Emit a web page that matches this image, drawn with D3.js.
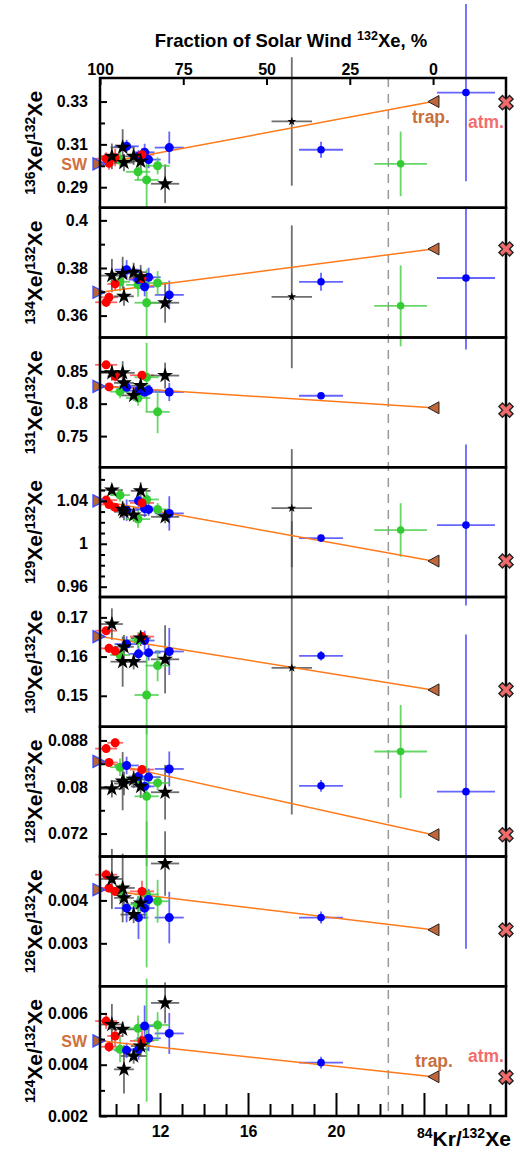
<!DOCTYPE html>
<html>
<head>
<meta charset="utf-8">
<script src="https://cdn.jsdelivr.net/npm/d3@7"></script>
<style>
body { margin: 0; background: #fff; }
svg { display: block; font-family: "Liberation Sans", Arial, sans-serif; font-weight: bold; }
</style>
</head>
<body>
<svg id="chart" width="514" height="1149"></svg>
<script>
// Samples: 4 red, 6 black stars, 5 blue, 4 green in the cluster, then four far points.
const sampleGroup = ["red", "red", "red", "red",
    "black", "black", "black", "black", "black", "black",
    "blue", "blue", "blue", "blue", "blue",
    "green", "green", "green", "green",
    "black", "blue", "green", "blue"];
const sampleKr = [9.55, 9.68, 9.96, 11.18,
    9.81, 10.30, 10.36, 10.80, 11.12, 12.23,
    10.48, 11.02, 11.30, 11.48, 12.42,
    10.18, 11.00, 11.39, 11.89,
    17.99, 19.32, 22.94, 25.91];
const sampleKrErr = [0.5, 0.4, 0.36, 0.55,
    0.5, 0.55, 0.45, 0.6, 0.45, 0.64,
    0.55, 0.45, 0.45, 0.55, 0.66,
    0.45, 0.55, 0.55, 0.55,
    0.92, 1.0, 1.2, 1.32];

// [ratio, error] per sample, same order as above (null = not plotted)
const xe136 = [[0.3033, 0.003], [0.3012, 0.003], [0.3038, 0.004], [0.3052, 0.003],
    [0.3044, 0.006], [0.3086, 0.0085], [0.3015, 0.004], [0.3044, 0.004], [0.3021, 0.004], [0.2916, 0.009],
    [0.3091, 0.003], [0.3043, 0.003], [0.3063, 0.004], [0.3029, 0.004], [0.3085, 0.0075],
    [0.3027, 0.004], [0.2972, 0.004], [0.2934, 0.0125], [0.3000, 0.004],
    [0.3207, 0.030], [0.3075, 0.0037], [0.3009, 0.0151], [0.3342, 0.0414]];
const xe134 = [[0.3656, 0.002], [0.3677, 0.002], [0.3733, 0.003], [0.3756, 0.003],
    [0.3768, 0.007], [0.3777, 0.007], [0.3681, 0.004], [0.3782, 0.004], [0.3763, 0.005], [0.3654, 0.0084],
    [0.3793, 0.004], [0.3751, 0.004], [0.3721, 0.004], [0.3761, 0.004], [0.3687, 0.006],
    [0.3742, 0.004], [0.3729, 0.005], [0.3654, 0.014], [0.3737, 0.005],
    [0.3679, 0.030], [0.3742, 0.0038], [0.3641, 0.017], [0.3758, 0.030]];
const xe131 = [[0.8599, 0.006], [0.8258, 0.005], [0.8422, 0.008], [0.8438, 0.006],
    [0.8475, 0.012], [0.8475, 0.018], [0.8320, 0.012], [0.8127, 0.008], [0.8278, 0.012], [0.8433, 0.02],
    [0.8252, 0.008], [0.8200, 0.008], [0.8180, 0.008], [0.8205, 0.008], [0.8180, 0.014],
    [0.8185, 0.010], [0.8087, 0.012], [0.8407, 0.053], [0.7874, 0.033],
    null, [0.8122, 0.004], null, null];
const xe129 = [[1.0407, 0.003], [1.0366, 0.003], [1.0339, 0.004], [1.0381, 0.004],
    [1.0500, 0.005], [1.0320, 0.008], [1.0298, 0.008], [1.0267, 0.006], [1.0493, 0.008], [1.0251, 0.006],
    [1.0313, 0.010], [1.0400, 0.006], [1.0329, 0.008], [1.0320, 0.006], [1.0283, 0.016],
    [1.0453, 0.006], [1.0230, 0.008], [1.0413, 0.008], [1.0320, 0.006],
    [1.0332, 0.055], [1.0053, 0.003], [1.0128, 0.025], [1.0174, 0.075]];
const xe130 = [[0.1666, 0.001], [0.1621, 0.0012], [0.1614, 0.001], [0.1651, 0.0012],
    [0.1683, 0.004], [0.1587, 0.0064], [0.1625, 0.003], [0.1587, 0.002], [0.1647, 0.002], [0.1593, 0.0087],
    [0.1632, 0.002], [0.1607, 0.002], [0.1641, 0.0025], [0.1610, 0.002], [0.1613, 0.006],
    [0.1604, 0.002], [0.1642, 0.002], [0.1502, 0.010], [0.1577, 0.004],
    [0.1571, 0.0374], [0.1602, 0.0012], null, null];
const xe128 = [[0.0866, 0.0007], [0.0842, 0.0006], [0.0876, 0.0008], [0.0830, 0.0007],
    [0.0797, 0.0015], [0.0810, 0.005], [0.0806, 0.002], [0.0813, 0.0015], [0.0801, 0.002], [0.0791, 0.0047],
    [0.0837, 0.0015], [0.0818, 0.0015], [0.0801, 0.0015], [0.0817, 0.0015], [0.0831, 0.003],
    [0.0834, 0.0015], [0.0816, 0.0015], [0.0784, 0.012], [0.0807, 0.0012],
    null, [0.0802, 0.001], [0.0861, 0.008], [0.0792, 0.027]];
const xe126 = [[0.00460, 0.00012], [0.00429, 0.0001], [0.00421, 0.0001], [0.00421, 0.00025],
    [0.00450, 0.0007], [0.00429, 0.0008], [0.00406, 0.0002], [0.00367, 0.0002], [0.00394, 0.0002], [0.00486, 0.00075],
    [0.00382, 0.00033], [0.00360, 0.0005], [0.00382, 0.00025], [0.00402, 0.00025], [0.00360, 0.0006],
    [0.00418, 0.0002], [0.00390, 0.0002], [0.00414, 0.0017], [0.00398, 0.0005],
    null, [0.00360, 0.00014], null, null];
const xe124 = [[0.00570, 0.0003], [0.00470, 0.0002], [0.00512, 0.0004], [0.00493, 0.0004],
    [0.00557, 0.0008], [0.00538, 0.0003], [0.00382, 0.00094], [0.00434, 0.0003], [0.00473, 0.0004], [0.00641, 0.0008],
    [0.00456, 0.0003], [0.00460, 0.0004], [0.00551, 0.0008], [0.00503, 0.0005], [0.00522, 0.0008],
    [0.00460, 0.0005], [0.00542, 0.0005], [0.00496, 0.0024], [0.00555, 0.0005],
    null, [0.00408, 0.00023], null, null];

const ratioMass = ["136", "134", "131", "129", "130", "128", "126", "124"];
const ratioValues = [xe136, xe134, xe131, xe129, xe130, xe128, xe126, xe124];
const yDomains = [[0.2804, 0.341], [0.3508, 0.4053], [0.702, 0.902], [0.9504, 1.0713],
    [0.1421, 0.1752], [0.06806, 0.09035], [0.002, 0.005023], [0.002, 0.00706]];
const yMajor = [[0.29, 0.31, 0.33], [0.36, 0.38, 0.4], [0.75, 0.8, 0.85], [0.96, 1, 1.04],
    [0.15, 0.16, 0.17], [0.072, 0.08, 0.088], [0.003, 0.004], [0.002, 0.004, 0.006]];
const yMinor = [[0.30, 0.32], [0.37, 0.39], [], [0.97, 0.98, 0.99, 1.01, 1.02, 1.03, 1.05, 1.06],
    [], [0.076, 0.084], [], [0.003, 0.005]];

// end members: solar wind, trapped, atmosphere
const swRatio = [0.3009, 0.3698, 0.8267, 1.04, 0.1651, 0.0844, 0.00425, 0.00493];
const trapRatio = [0.3300, 0.3880, 0.7936, 0.9839, 0.1515, 0.0718, 0.003314, 0.003533];
const atmRatio = [0.3295, 0.3880, 0.7900, 0.9839, 0.1515, 0.0718, 0.00331, 0.00351];
const trapKr = 24.41;
const dashedKr = 22.38;

const krDomain = [9.27, 27.73];
const krMajor = [12, 16, 20, 24];
const krMajorLabels = ["12", "16", "20", ""];
const krMinor = d3.range(10, 28);
const fracDomain = [100, -21.9];
const fracTicks = [100, 75, 50, 25, 0];

const groupColor = { red: "#ff0000", black: "#000000", blue: "#0000ff", green: "#33cc33" };
const barColor = { red: "#ff4040", black: "#4a4a4a", blue: "#4040ff", green: "#44cc44" };
const drawOrder = ["green", "blue", "red", "black"];

const plotLeft = 100, plotRight = 506, plotTop = 78, plotBottom = 1116;
const panelH = (plotBottom - plotTop) / ratioMass.length;
const FONT = "'Liberation Sans', Arial, sans-serif";

const svg = d3.select("#chart");
const x = d3.scaleLinear().domain(krDomain).range([plotLeft, plotRight]);
const xFrac = d3.scaleLinear().domain(fracDomain).range([plotLeft, plotRight]);

const barLayer = svg.append("g").classed("bars", true);
const markLayer = svg.append("g").classed("marks", true);
const frameLayer = svg.append("g").classed("frames", true);

// dashed reference line through all panels
barLayer.append("line")
    .attr("x1", x(dashedKr)).attr("x2", x(dashedKr))
    .attr("y1", plotTop).attr("y2", plotBottom)
    .attr("stroke", "#999").attr("stroke-width", 1.5)
    .attr("stroke-dasharray", "9,7");

function styleAxisText(g) {
    g.selectAll("text").attr("font-size", 16).attr("font-weight", "bold")
        .attr("font-family", FONT).attr("fill", "#000");
}

ratioMass.forEach((mass, i) => {
    const top = plotTop + i * panelH;
    const y = d3.scaleLinear().domain(yDomains[i]).range([top + panelH, top]);
    const points = ratioValues[i]
        .map((d, j) => d && {
            kr: sampleKr[j], krErr: sampleKrErr[j], v: d[0], e: d[1],
            group: sampleGroup[j], far: j >= 19
        })
        .filter(Boolean);

    // mixing line between solar wind and trapped
    markLayer.append("line")
        .attr("x1", x(krDomain[0])).attr("y1", y(swRatio[i]))
        .attr("x2", x(trapKr)).attr("y2", y(trapRatio[i]))
        .attr("stroke", "#ff7a1a").attr("stroke-width", 1.5);

    // error bars
    const bars = barLayer.append("g").selectAll("g").data(points).enter().append("g")
        .attr("stroke", (d) => barColor[d.group])
        .attr("stroke-width", 1.8)
        .attr("stroke-opacity", 0.8);
    bars.append("line")
        .attr("x1", (d) => x(d.kr - d.krErr)).attr("x2", (d) => x(d.kr + d.krErr))
        .attr("y1", (d) => y(d.v)).attr("y2", (d) => y(d.v));
    bars.append("line")
        .attr("x1", (d) => x(d.kr)).attr("x2", (d) => x(d.kr))
        .attr("y1", (d) => y(d.v - d.e)).attr("y2", (d) => y(d.v + d.e));

    // markers
    drawOrder.forEach((group) => {
        const sel = markLayer.append("g").selectAll(".pt")
            .data(points.filter((d) => d.group === group)).enter();
        if (group === "black") {
            sel.append("path")
                .attr("d", (d) => d3.symbol(d3.symbolStar, d.far ? 24 : 78)())
                .attr("transform", (d) => "translate(" + x(d.kr) + "," + y(d.v) + ")")
                .attr("fill", "#000");
        } else {
            sel.append("circle")
                .attr("cx", (d) => x(d.kr)).attr("cy", (d) => y(d.v))
                .attr("r", (d) => (d.far ? 3.8 : 4.5))
                .attr("fill", groupColor[group]);
        }
    });

    // solar wind marker at left edge
    const ySw = y(swRatio[i]);
    markLayer.append("path")
        .attr("d", "M" + (plotLeft - 7) + "," + (ySw - 6) + "L" + (plotLeft + 5) + "," + ySw +
            "L" + (plotLeft - 7) + "," + (ySw + 6) + "Z")
        .attr("fill", "#b8653a").attr("stroke", "#3a4cff").attr("stroke-width", 1.3);

    // trapped marker
    const yTrap = y(trapRatio[i]);
    const xTrap = x(trapKr);
    markLayer.append("path")
        .attr("d", "M" + (xTrap - 5) + "," + yTrap + "L" + (xTrap + 6) + "," + (yTrap - 6) +
            "L" + (xTrap + 6) + "," + (yTrap + 6) + "Z")
        .attr("fill", "#c0663a").attr("stroke", "#222").attr("stroke-width", 1);

    // frame of the panel
    frameLayer.append("rect")
        .attr("x", plotLeft).attr("y", top)
        .attr("width", plotRight - plotLeft).attr("height", panelH)
        .attr("fill", "none").attr("stroke", "#000").attr("stroke-width", 2.5);

    // y axis, ticks pointing inward
    const axisG = frameLayer.append("g").attr("transform", "translate(" + plotLeft + ",0)");
    axisG.call(d3.axisLeft(y).tickValues(yMajor[i]).tickFormat((v) => String(v))
        .tickSize(-7).tickPadding(12));
    axisG.append("g").call(d3.axisLeft(y).tickValues(yMinor[i]).tickFormat("").tickSize(-5));
    axisG.selectAll(".domain").remove();
    axisG.selectAll("line").attr("stroke-width", 2);
    styleAxisText(axisG);

    // rotated y label
    const label = svg.append("text")
        .attr("transform", "translate(42," + (top + panelH / 2) + ") rotate(-90)")
        .attr("text-anchor", "middle")
        .attr("font-size", 21);
    label.append("tspan").attr("font-size", 14).attr("dy", -7).text(mass);
    label.append("tspan").attr("dy", 7).text("Xe/");
    label.append("tspan").attr("font-size", 14).attr("dy", -7).text("132");
    label.append("tspan").attr("dy", 7).text("Xe");
});

// atmosphere markers sit on top of the right frame
ratioMass.forEach((mass, i) => {
    const top = plotTop + i * panelH;
    const y = d3.scaleLinear().domain(yDomains[i]).range([top + panelH, top]);
    frameLayer.append("path")
        .attr("d", d3.symbol(d3.symbolCross, 125)())
        .attr("transform", "translate(" + plotRight + "," + y(atmRatio[i]) + ") rotate(45)")
        .attr("fill", "#f26b6b").attr("stroke", "#222").attr("stroke-width", 1.4);
});

// bottom axis
const bottomAxis = frameLayer.append("g").attr("transform", "translate(0," + plotBottom + ")");
bottomAxis.call(d3.axisBottom(x).tickValues(krMajor)
    .tickFormat((v, k) => krMajorLabels[k]).tickSize(-23).tickPadding(10));
bottomAxis.append("g").call(d3.axisBottom(x).tickValues(krMinor.filter((v) => v % 4 !== 0))
    .tickFormat("").tickSize(-12));
bottomAxis.selectAll(".domain").remove();
bottomAxis.selectAll("line").attr("stroke-width", 2);
styleAxisText(bottomAxis);

const xLabel = svg.append("text").attr("x", 417).attr("y", 1146).attr("font-size", 21);
xLabel.append("tspan").attr("font-size", 14).attr("dy", -8).text("84");
xLabel.append("tspan").attr("dy", 8).text("Kr/");
xLabel.append("tspan").attr("font-size", 14).attr("dy", -8).text("132");
xLabel.append("tspan").attr("dy", 8).text("Xe");

// top axis: fraction of solar wind Xe
const topAxis = frameLayer.append("g").attr("transform", "translate(0," + plotTop + ")");
topAxis.call(d3.axisTop(xFrac).tickValues(fracTicks).tickFormat((v) => String(v))
    .tickSize(-7).tickPadding(3));
topAxis.selectAll(".domain").remove();
topAxis.selectAll("line").attr("stroke-width", 2);
styleAxisText(topAxis);

const title = svg.append("text").attr("x", 291).attr("y", 47)
    .attr("text-anchor", "middle").attr("font-size", 18.5);
title.append("tspan").text("Fraction of Solar Wind ");
title.append("tspan").attr("font-size", 12.5).attr("dy", -7).text("132");
title.append("tspan").attr("dy", 7).text("Xe, %");

// end-member annotations
const swColor = "#d0703c", trapColor = "#c86f3e", atmColor = "#f26d6d";
[0, 7].forEach((i) => {
    const top = plotTop + i * panelH;
    const y = d3.scaleLinear().domain(yDomains[i]).range([top + panelH, top]);
    svg.append("text").attr("x", 87).attr("y", y(swRatio[i]) + 6)
        .attr("text-anchor", "end").attr("font-size", 16).attr("fill", swColor).text("SW");
});
svg.append("text").attr("x", 412).attr("y", 123).attr("font-size", 17.5).attr("fill", trapColor).text("trap.");
svg.append("text").attr("x", 468).attr("y", 128).attr("font-size", 17.5).attr("fill", atmColor).text("atm.");
svg.append("text").attr("x", 415).attr("y", 1067).attr("font-size", 17.5).attr("fill", trapColor).text("trap.");
svg.append("text").attr("x", 468).attr("y", 1062).attr("font-size", 17.5).attr("fill", atmColor).text("atm.");
</script>
</body>
</html>
